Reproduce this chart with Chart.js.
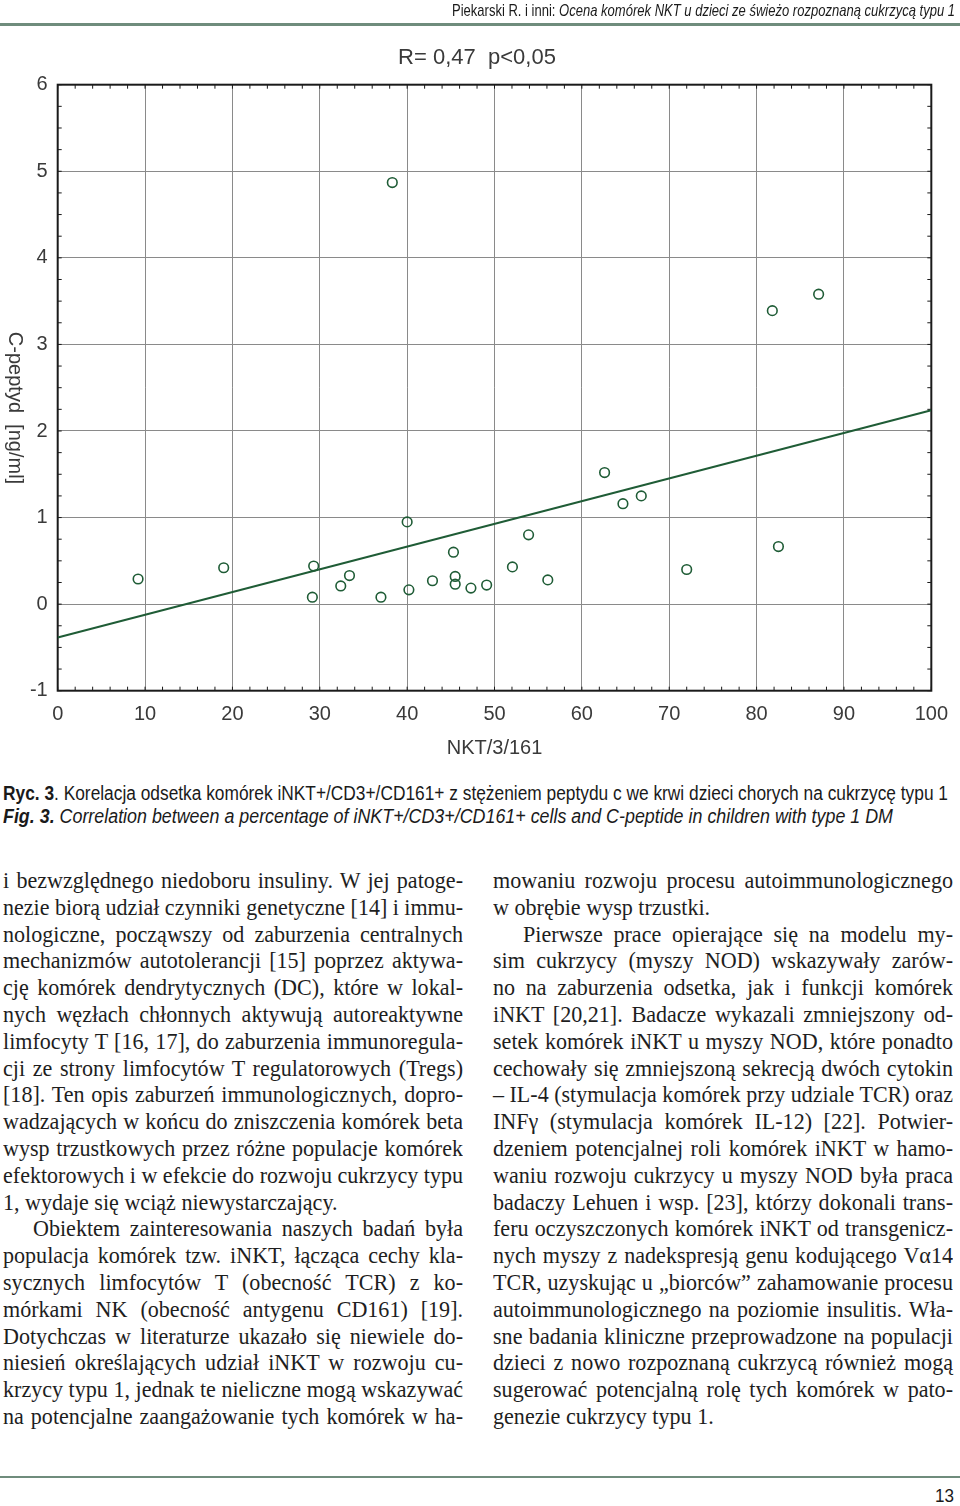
<!DOCTYPE html>
<html lang="pl">
<head>
<meta charset="utf-8">
<title>Ryc. 3 – iNKT a C-peptyd</title>
<script src="https://cdn.jsdelivr.net/npm/chart.js@4"></script>
<style>
  html, body { margin: 0; padding: 0; background: #fff; }
  #page { position: relative; width: 960px; height: 1506px; overflow: hidden; color: #1a1a1a; }
  #chart { position: absolute; left: 0; top: 0; }
  .abs { position: absolute; white-space: nowrap; }
  .fit { display: inline-block; white-space: nowrap; transform-origin: 0 50%; }
  .sans { font-family: "Liberation Sans", Arial, sans-serif; }
  .rule { position: absolute; left: 0; width: 960px; background: #6f8c7c; }
  .col { position: absolute; top: 867px; width: 460px; font-family: "Liberation Serif", "Times New Roman", serif; font-size: 24px; color: #1e1e1e; }
  .col div { height: 26.8px; line-height: 26.8px; white-space: nowrap; }
  .col div.ind { padding-left: 30px; }
  .col span { display: inline-block; transform-origin: 0 50%; }
</style>
</head>
<body>
<div id="page">
  <canvas id="chart" width="960" height="770"></canvas>

  <div class="abs sans" style="left:452px; top:1px; font-size:17px; line-height:20px;">
    <span class="fit" data-w="503">Piekarski R. i inni: <i>Ocena komórek NKT u dzieci ze świeżo rozpoznaną cukrzycą typu 1</i></span>
  </div>
  <div class="rule" style="top:23px; height:3px;"></div>

  <div class="abs sans" style="left:3px; top:781px; font-size:20px; line-height:24px;">
    <span class="fit" data-w="945"><b>Ryc. 3</b>. Korelacja odsetka komórek iNKT+/CD3+/CD161+ z stężeniem peptydu c we krwi dzieci chorych na cukrzycę typu 1</span>
  </div>
  <div class="abs sans" style="left:3px; top:804px; font-size:20px; line-height:24px;">
    <span class="fit" data-w="890"><b><i>Fig. 3.</i></b><i> Correlation between a percentage of iNKT+/CD3+/CD161+ cells and C-peptide in children with type 1 DM</i></span>
  </div>

  <div class="col" style="left:3px;">
    <div><span>i bezwzględnego niedoboru insuliny. W jej patoge-</span></div>
    <div><span>nezie biorą udział czynniki genetyczne [14] i immu-</span></div>
    <div><span>nologiczne, począwszy od zaburzenia centralnych</span></div>
    <div><span>mechanizmów autotolerancji [15] poprzez aktywa-</span></div>
    <div><span>cję komórek dendrytycznych (DC), które w lokal-</span></div>
    <div><span>nych węzłach chłonnych aktywują autoreaktywne</span></div>
    <div><span>limfocyty T [16, 17], do zaburzenia immunoregula-</span></div>
    <div><span>cji ze strony limfocytów T regulatorowych (Tregs)</span></div>
    <div><span>[18]. Ten opis zaburzeń immunologicznych, dopro-</span></div>
    <div><span>wadzających w końcu do zniszczenia komórek beta</span></div>
    <div><span>wysp trzustkowych przez różne populacje komórek</span></div>
    <div><span>efektorowych i w efekcie do rozwoju cukrzycy typu</span></div>
    <div class="last"><span>1, wydaje się wciąż niewystarczający.</span></div>
    <div class="ind"><span>Obiektem zainteresowania naszych badań była</span></div>
    <div><span>populacja komórek tzw. iNKT, łącząca cechy kla-</span></div>
    <div><span>sycznych limfocytów T (obecność TCR) z ko-</span></div>
    <div><span>mórkami NK (obecność antygenu CD161) [19].</span></div>
    <div><span>Dotychczas w literaturze ukazało się niewiele do-</span></div>
    <div><span>niesień określających udział iNKT w rozwoju cu-</span></div>
    <div><span>krzycy typu 1, jednak te nieliczne mogą wskazywać</span></div>
    <div><span>na potencjalne zaangażowanie tych komórek w ha-</span></div>
  </div>

  <div class="col" style="left:493px;">
    <div><span>mowaniu rozwoju procesu autoimmunologicznego</span></div>
    <div class="last"><span>w obrębie wysp trzustki.</span></div>
    <div class="ind"><span>Pierwsze prace opierające się na modelu my-</span></div>
    <div><span>sim cukrzycy (myszy NOD) wskazywały zarów-</span></div>
    <div><span>no na zaburzenia odsetka, jak i funkcji komórek</span></div>
    <div><span>iNKT [20,21]. Badacze wykazali zmniejszony od-</span></div>
    <div><span>setek komórek iNKT u myszy NOD, które ponadto</span></div>
    <div><span>cechowały się zmniejszoną sekrecją dwóch cytokin</span></div>
    <div><span>– IL-4 (stymulacja komórek przy udziale TCR) oraz</span></div>
    <div><span>INFγ (stymulacja komórek IL-12) [22]. Potwier-</span></div>
    <div><span>dzeniem potencjalnej roli komórek iNKT w hamo-</span></div>
    <div><span>waniu rozwoju cukrzycy u myszy NOD była praca</span></div>
    <div><span>badaczy Lehuen i wsp. [23], którzy dokonali trans-</span></div>
    <div><span>feru oczyszczonych komórek iNKT od transgenicz-</span></div>
    <div><span>nych myszy z nadekspresją genu kodującego Vα14</span></div>
    <div><span>TCR, uzyskując u „biorców” zahamowanie procesu</span></div>
    <div><span>autoimmunologicznego na poziomie insulitis. Wła-</span></div>
    <div><span>sne badania kliniczne przeprowadzone na populacji</span></div>
    <div><span>dzieci z nowo rozpoznaną cukrzycą również mogą</span></div>
    <div><span>sugerować potencjalną rolę tych komórek w pato-</span></div>
    <div class="last"><span>genezie cukrzycy typu 1.</span></div>
  </div>

  <div class="rule" style="top:1476px; height:2px;"></div>
  <div class="abs sans" style="left:935px; top:1485px; font-size:19px; line-height:22px;">
    <span class="fit" data-w="19">13</span>
  </div>
</div>

<script>
// ── Data ───────────────────────────────────────────────
const nktValues = [9.2, 19.0, 29.3, 29.15, 32.4, 33.4, 37.0, 38.3, 40.0, 40.2, 42.9, 45.3, 45.5,
                   45.5, 47.3, 49.1, 52.05, 53.9, 56.1, 62.6, 64.7, 66.8, 72.0, 81.8, 82.5, 87.1];
const cPeptyd   = [0.29, 0.42, 0.44, 0.08, 0.21, 0.33, 0.08, 4.87, 0.95, 0.165, 0.27, 0.60, 0.32,
                   0.23, 0.185, 0.22, 0.43, 0.80, 0.28, 1.52, 1.16, 1.25, 0.40, 3.39, 0.665, 3.58];

// regression line, end points
const fitX = [0, 100];
const fitY = [-0.385, 2.24];

const xTicks = [0, 10, 20, 30, 40, 50, 60, 70, 80, 90, 100];
const yTicks = [-1, 0, 1, 2, 3, 4, 5, 6];

const chartTitle = "R= 0,47  p<0,05";
const xTitle     = "NKT/3/161";
const yTitle     = "C-peptyd  [ng/ml]";

// ── Text fitting (condensed sans + justified columns) ──
const SQUEEZE = 0.92;   // body face is a touch narrower than Times

function fitText() {
  document.querySelectorAll(".fit").forEach(function (el) {
    var w = el.getBoundingClientRect().width;
    var target = parseFloat(el.getAttribute("data-w"));
    el.style.transform = "scaleX(" + (target / w) + ")";
  });
  document.querySelectorAll(".col div").forEach(function (row) {
    var span = row.firstElementChild;
    var target = (row.classList.contains("ind") ? 430 : 460) / SQUEEZE;
    var w = span.getBoundingClientRect().width;
    var sx = SQUEEZE;
    if (!row.classList.contains("last")) {
      var gaps = (span.textContent.match(/ /g) || []).length;
      if (w < target && gaps > 0) {
        span.style.wordSpacing = ((target - w) / gaps) + "px";
      } else if (w > target) {
        sx = SQUEEZE * target / w;
      }
    }
    span.style.transform = "scaleX(" + sx + ")";
  });
}
fitText();

// ── Chart ──────────────────────────────────────────────
const lblFont = { family: "'Liberation Sans', Arial, sans-serif", size: 20 };
const lblClr  = "#3a3a3a";
const green   = "#1f5c36";

// frame, inward minor ticks, titles
const framePlugin = {
  id: "frame",
  beforeDatasetsDraw: function (chart) {
    var ctx = chart.ctx, a = chart.chartArea, x = chart.scales.x, y = chart.scales.y;
    ctx.save();
    ctx.strokeStyle = "#1a1a1a";
    ctx.lineWidth = 1;
    ctx.beginPath();
    for (var v = 0; v <= 100; v += 2) {
      var px = x.getPixelForValue(v);
      ctx.moveTo(px, a.bottom); ctx.lineTo(px, a.bottom - 4);
      ctx.moveTo(px, a.top);    ctx.lineTo(px, a.top + 4);
    }
    for (var k = -4; k <= 24; k++) {
      var py = y.getPixelForValue(k / 4);
      ctx.moveTo(a.left, py);  ctx.lineTo(a.left + 4, py);
      ctx.moveTo(a.right, py); ctx.lineTo(a.right - 4, py);
    }
    ctx.stroke();
    ctx.lineWidth = 2;
    ctx.strokeRect(a.left, a.top, a.right - a.left, a.bottom - a.top);
    ctx.restore();
  },
  afterDraw: function (chart) {
    var ctx = chart.ctx;
    ctx.save();
    ctx.fillStyle = lblClr;
    ctx.font = "22px 'Liberation Sans', Arial, sans-serif";
    ctx.textAlign = "center";
    ctx.textBaseline = "middle";
    ctx.fillText(chartTitle, 477, 58);
    ctx.font = "20px 'Liberation Sans', Arial, sans-serif";
    ctx.translate(15, 408);
    ctx.rotate(Math.PI / 2);
    ctx.fillText(yTitle, 0, 0);
    ctx.restore();
  }
};

new Chart(document.getElementById("chart"), {
  type: "scatter",
  data: {
    datasets: [{
      type:            "scatter",
      data:            nktValues.map(function (v, i) { return { x: v, y: cPeptyd[i] }; }),
      pointStyle:      "circle",
      pointRadius:     4.8,
      borderWidth:     1.6,
      borderColor:     green,
      backgroundColor: "rgba(255,255,255,0)",
    }, {
      type:        "line",
      data:        fitX.map(function (v, i) { return { x: v, y: fitY[i] }; }),
      borderColor: green,
      borderWidth: 2,
      pointRadius: 0,
      fill:        false,
      tension:     0,
    }]
  },
  options: {
    responsive: false,
    animation:  false,
    layout: { padding: { left: 0, right: 24.3, top: 84.7, bottom: 0 } },
    plugins: {
      legend:  { display: false },
      tooltip: { enabled: false },
    },
    scales: {
      x: {
        type: "linear", min: 0, max: 100,
        afterBuildTicks: function (s) { s.ticks = xTicks.map(function (v) { return { value: v }; }); },
        afterFit: function (s) { s.height = 79.3; },
        grid:   { color: "#8a8a8a", lineWidth: 1, drawTicks: false },
        border: { display: false },
        ticks:  { color: lblClr, font: lblFont, padding: 12, maxRotation: 0 },
        title:  { display: true, text: xTitle, color: lblClr, font: lblFont, padding: { top: 0, bottom: 10 } },
      },
      y: {
        type: "linear", min: -1, max: 6,
        afterBuildTicks: function (s) { s.ticks = yTicks.map(function (v) { return { value: v }; }); },
        afterFit: function (s) { s.width = 57.7; },
        grid:   { color: "#8a8a8a", lineWidth: 1, drawTicks: false },
        border: { display: false },
        ticks:  { color: lblClr, font: lblFont, padding: 10 },
      }
    }
  },
  plugins: [framePlugin]
});
</script>
</body>
</html>
